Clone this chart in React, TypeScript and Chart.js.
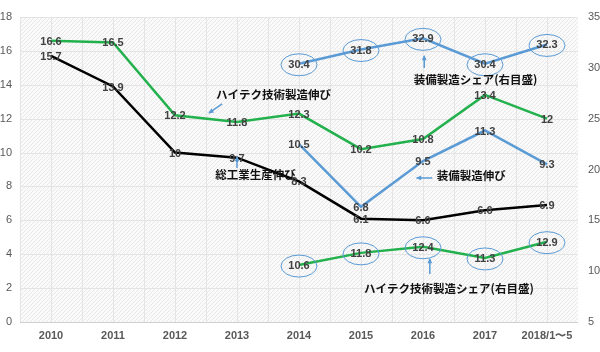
import React, { useEffect, useRef } from "react";
import { Chart, registerables } from "chart.js";

Chart.register(...registerables);

const categories = ["2010", "2011", "2012", "2013", "2014", "2015", "2016", "2017", "2018/1〜5"];
const totalGrowth = [15.7, 13.9, 10, 9.7, 8.3, 6.1, 6.0, 6.6, 6.9];
const hiTechGrowth = [16.6, 16.5, 12.2, 11.8, 12.3, 10.2, 10.8, 13.4, 12];
const equipGrowth = [null, null, null, null, 10.5, 6.8, 9.5, 11.3, 9.3];
const equipShare = [null, null, null, null, 30.4, 31.8, 32.9, 30.4, 32.3];
const hiTechShare = [null, null, null, null, 10.6, 11.8, 12.4, 11.3, 12.9];
const leftTicks = [0, 2, 4, 6, 8, 10, 12, 14, 16, 18];
const rightTicks = [5, 10, 15, 20, 25, 30, 35];

// Annotation texts positioned in (category index, left-axis value) terms
const annotations = [
  { text: "ハイテク技術製造伸び", at: [2.66, 13.4], arrow: [[2.76, 12.87], [2.55, 12.34]] },
  { text: "装備製造シェア(右目盛)", at: [5.85, 14.3], arrow: [[6.02, 14.99], [6.02, 15.7]] },
  { text: "装備製造伸び", at: [6.22, 8.62], arrow: [[6.15, 8.5], [5.9, 8.5]] },
  { text: "総工業生産伸び", at: [2.65, 8.7], arrow: [[3.0, 9.09], [3.0, 9.74]] },
  { text: "ハイテク技術製造シェア(右目盛)", at: [5.05, 1.95], arrow: [[6.11, 2.83], [6.11, 3.72]] },
];

const BLUE = "#5b9bd5";
const GREEN = "#22b14c";
const fmt = (v: number, ds: number, i: number) => (ds === 0 && i === 6 ? v.toFixed(1) : String(v));

export default function App() {
  const ref = useRef<HTMLCanvasElement>(null);
  useEffect(() => {
    if (!ref.current) return;
    const pc = document.createElement("canvas");
    pc.width = 4;
    pc.height = 4;
    const pctx = pc.getContext("2d")!;
    pctx.fillStyle = "#fafafa";
    pctx.fillRect(0, 0, 4, 4);
    pctx.strokeStyle = "#e8e8e8";
    pctx.lineWidth = 1;
    pctx.beginPath();
    pctx.moveTo(-1, 5);
    pctx.lineTo(5, -1);
    pctx.stroke();

    const overlay = {
      id: "overlay",
      beforeDatasetsDraw(chart: any) {
        const { ctx, chartArea, scales } = chart;
        const { left, right, top, bottom } = chartArea;
        const x = scales.x;
        const y = scales.y;
        ctx.save();
        const pat = ctx.createPattern(pc, "repeat");
        ctx.fillStyle = pat || "#f5f5f5";
        ctx.fillRect(left, top, right - left, bottom - top);
        ctx.strokeStyle = "#e4e4e4";
        ctx.lineWidth = 1;
        for (let i = 0; i < categories.length; i++) {
          for (const d of [-0.5, 0]) {
            const px = Math.round(x.getPixelForValue(i + d)) + 0.5;
            ctx.beginPath();
            ctx.moveTo(px, top);
            ctx.lineTo(px, bottom);
            ctx.stroke();
          }
        }
        for (const t of leftTicks) {
          const py = Math.round(y.getPixelForValue(t)) + 0.5;
          ctx.beginPath();
          ctx.moveTo(left, py);
          ctx.lineTo(right, py);
          ctx.strokeStyle = t === 0 ? "#d0d0d0" : "#e4e4e4";
          ctx.stroke();
        }
        ctx.restore();
      },
      afterDatasetsDraw(chart: any) {
        const { ctx, scales } = chart;
        const x = scales.x;
        const y = scales.y;
        ctx.save();
        // ellipses around share labels
        [3, 4].forEach((di) => {
          const meta = chart.getDatasetMeta(di);
          meta.data.forEach((pt: any, i: number) => {
            const v = chart.data.datasets[di].data[i];
            if (v == null) return;
            ctx.beginPath();
            ctx.ellipse(pt.x, pt.y + 1, 18, 11, 0, 0, Math.PI * 2);
            ctx.strokeStyle = BLUE;
            ctx.lineWidth = 1;
            ctx.stroke();
          });
        });
        // data labels
        ctx.font = "bold 11px 'Liberation Sans', Arial, sans-serif";
        ctx.textAlign = "center";
        ctx.textBaseline = "middle";
        ctx.fillStyle = "#404040";
        chart.data.datasets.forEach((ds: any, di: number) => {
          const meta = chart.getDatasetMeta(di);
          meta.data.forEach((pt: any, i: number) => {
            const v = ds.data[i];
            if (v == null) return;
            ctx.fillText(fmt(v, di, i), pt.x, pt.y + 1);
          });
        });
        // annotations
        for (const a of annotations) {
          ctx.font = "bold 11.5px 'Noto Sans CJK JP', sans-serif";
          ctx.textAlign = "left";
          ctx.fillStyle = "#111111";
          ctx.fillText(a.text, x.getPixelForValue(a.at[0]), y.getPixelForValue(a.at[1]));
          const [p0, p1] = a.arrow;
          const x0 = x.getPixelForValue(p0[0]);
          const y0 = y.getPixelForValue(p0[1]);
          const x1 = x.getPixelForValue(p1[0]);
          const y1 = y.getPixelForValue(p1[1]);
          ctx.strokeStyle = BLUE;
          ctx.fillStyle = BLUE;
          ctx.lineWidth = 1.5;
          ctx.beginPath();
          ctx.moveTo(x0, y0);
          ctx.lineTo(x1, y1);
          ctx.stroke();
          const ang = Math.atan2(y1 - y0, x1 - x0);
          const hl = 5;
          ctx.beginPath();
          ctx.moveTo(x1 + Math.cos(ang) * 1, y1 + Math.sin(ang) * 1);
          ctx.lineTo(x1 - hl * Math.cos(ang - 0.5), y1 - hl * Math.sin(ang - 0.5));
          ctx.lineTo(x1 - hl * Math.cos(ang + 0.5), y1 - hl * Math.sin(ang + 0.5));
          ctx.closePath();
          ctx.fill();
        }
        ctx.restore();
      },
    };

    const tickFont = { family: "'Liberation Sans', Arial, sans-serif", size: 11 };
    const noGrid = { display: false, drawTicks: false };
    const chart = new Chart(ref.current, {
      type: "line",
      data: {
        labels: categories,
        datasets: [
          { label: "総工業生産伸び", data: totalGrowth, borderColor: "#000000", borderWidth: 2.5, yAxisID: "y" },
          { label: "ハイテク技術製造伸び", data: hiTechGrowth, borderColor: GREEN, borderWidth: 2.5, yAxisID: "y" },
          { label: "装備製造伸び", data: equipGrowth, borderColor: BLUE, borderWidth: 2.5, yAxisID: "y" },
          { label: "装備製造シェア", data: equipShare, borderColor: BLUE, borderWidth: 2.5, yAxisID: "y1" },
          { label: "ハイテク技術製造シェア", data: hiTechShare, borderColor: GREEN, borderWidth: 2.5, yAxisID: "y1" },
        ] as any,
      },
      options: {
        animation: false,
        responsive: false,
        maintainAspectRatio: false,
        layout: { padding: { top: 17, left: 0, right: 0, bottom: 0 } },
        elements: { point: { radius: 0 }, line: { tension: 0 } },
        plugins: { legend: { display: false }, tooltip: { enabled: false } },
        scales: {
          x: {
            type: "category",
            offset: true,
            grid: noGrid,
            border: { display: false },
            ticks: { color: "#595959", font: { ...tickFont, weight: "bold" }, padding: 7, maxRotation: 0, autoSkip: false },
            afterFit: (s: any) => { s.height = 30; },
          },
          y: {
            position: "left",
            min: 0,
            max: 18,
            afterBuildTicks: (s: any) => { s.ticks = leftTicks.map((v) => ({ value: v })); },
            grid: noGrid,
            border: { display: false },
            ticks: { color: "#595959", font: tickFont, padding: 8 },
            afterFit: (s: any) => { s.width = 20; },
          },
          y1: {
            position: "right",
            min: 5,
            max: 35,
            afterBuildTicks: (s: any) => { s.ticks = rightTicks.map((v) => ({ value: v })); },
            grid: noGrid,
            border: { display: false },
            ticks: { color: "#595959", font: tickFont, padding: 10 },
            afterFit: (s: any) => { s.width = 22; },
          },
        },
      } as any,
      plugins: [overlay],
    });
    return () => chart.destroy();
  }, []);

  return (
    <div style={{ position: "fixed", left: 0, top: 0, width: 600, height: 352, background: "#ffffff" }}>
      <canvas ref={ref} width={600} height={352} style={{ width: 600, height: 352, display: "block" }} />
    </div>
  );
}
